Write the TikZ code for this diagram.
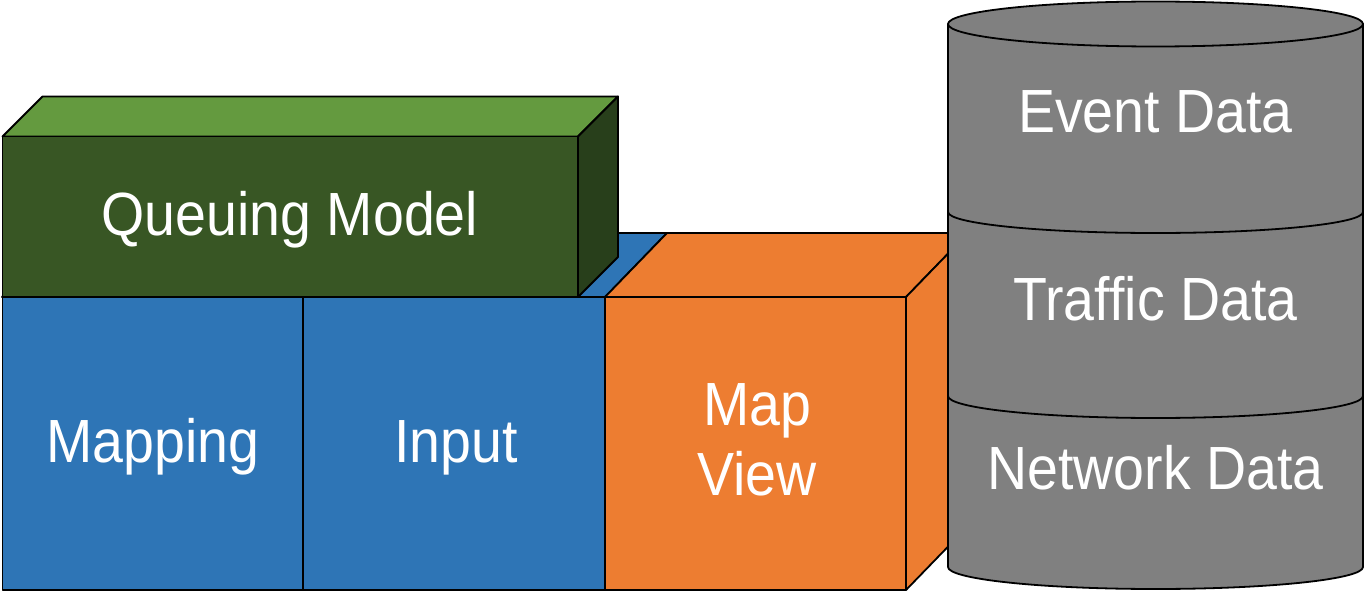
\documentclass[tikz,border=0pt]{standalone}
\usepackage{fontspec}
\setmainfont{Liberation Sans}[FakeStretch=0.91]
\begin{document}
\begin{tikzpicture}[x=1bp,y=-1bp,line width=1.8bp,line join=round,
  face/.style={draw=black},
  lbl/.style={text=white,inner sep=0pt,font=\fontsize{61bp}{69.5bp}\selectfont}]
\definecolor{gtop}{HTML}{649A3F}
\definecolor{gfront}{HTML}{385624}
\definecolor{gside}{HTML}{283F1B}
\definecolor{bluef}{HTML}{2E75B6}
\definecolor{orangef}{HTML}{ED7D31}
\definecolor{grayf}{HTML}{808080}
\useasboundingbox (0,0) rectangle (1365,594);
% blue top face (Mapping + Input)
\draw[face,fill=bluef] (2,297) -- (64,233) -- (667,233) -- (605,297) -- cycle;
% Queuing Model box
\draw[face,fill=gtop] (2.5,136.5) -- (42.5,96.5) -- (618,96.5) -- (578,136.5) -- cycle;
\draw[face,fill=gside] (578,136.5) -- (618,96.5) -- (618,257) -- (578,297) -- cycle;
\draw[face,fill=gfront] (2.5,136.5) rectangle (578,297);
% Mapping and Input
\draw[face,fill=bluef] (2.5,297) rectangle (303,590);
\draw[face,fill=bluef] (303,297) rectangle (605,590);
% Map View box
\draw[face,fill=orangef] (605,297) -- (667,233) -- (968,233) -- (906,297) -- cycle;
\draw[face,fill=orangef] (906,297) -- (968,233) -- (968,526) -- (906,590) -- cycle;
\draw[face,fill=orangef] (605,297) rectangle (906,590);
% Cylinder
\draw[face,fill=grayf] (948,24) -- (948,567) arc[start angle=180,end angle=0,x radius=207.5,y radius=22] -- (1363,24) -- cycle;
\draw[face,fill=grayf] (1155.5,24) ellipse[x radius=207.5,y radius=22.5];
\draw[face] (948,212) arc[start angle=180,end angle=0,x radius=207.5,y radius=21];
\draw[face] (948,396) arc[start angle=180,end angle=0,x radius=207.5,y radius=22];
% Labels
\node[lbl,anchor=base] (qm) at (290,235) {Queuing Model};
\node[lbl,anchor=base] (mp) at (153,462) {Mapping};
\node[lbl,anchor=base] (in) at (456,462) {Input};
\node[lbl,anchor=center,align=center] (mv) at (757,440) {Map\\View};
\node[lbl,anchor=base] (ev) at (1155.5,133) {Event Data};
\node[lbl,anchor=base] (tr) at (1155.5,320) {Traffic Data};
\node[lbl,anchor=base] (nw) at (1155.5,489) {Network Data};
\end{tikzpicture}
\end{document}
